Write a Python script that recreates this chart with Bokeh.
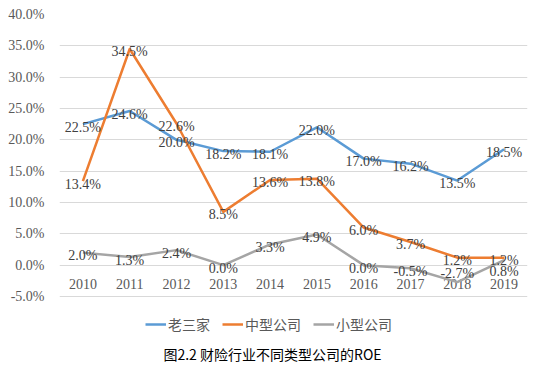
from bokeh.plotting import figure
from bokeh.models import Legend, LegendItem, Label, PrintfTickFormatter, FixedTicker, Range1d, ColumnDataSource
from bokeh.core.properties import value
from bokeh.embed import file_html
from bokeh.resources import INLINE

years = ["2010", "2011", "2012", "2013", "2014", "2015", "2016", "2017", "2018", "2019"]
big3 = [22.5, 24.6, 20.0, 18.2, 18.1, 22.0, 17.0, 16.2, 13.5, 18.5]
mid = [13.4, 34.5, 22.6, 8.5, 13.6, 13.8, 6.0, 3.7, 1.2, 1.2]
small = [2.0, 1.3, 2.4, 0.0, 3.3, 4.9, 0.0, -0.5, -2.7, 0.8]
y_ticks = [-5, 0, 5, 10, 15, 20, 25, 30, 35, 40]
names = ["老三家", "中型公司", "小型公司"]
colors = ["#5B9BD5", "#ED7D31", "#A5A5A5"]
caption = "图2.2 财险行业不同类型公司的ROE"

serif = "Liberation Serif"
cjk = "Noto Sans CJK SC"

p = figure(width=537, height=371, x_range=years, y_range=Range1d(-16.97, 40),
           output_backend="svg", toolbar_location=None,
           min_border_left=59, min_border_right=10, min_border_top=14, min_border_bottom=0)
p.outline_line_color = None

p.yaxis.ticker = FixedTicker(ticks=y_ticks)
p.yaxis.formatter = PrintfTickFormatter(format="%.1f%%")
p.yaxis.axis_line_color = None
p.yaxis.major_tick_line_color = None
p.yaxis.minor_tick_line_color = None
p.yaxis.major_label_text_font = serif
p.yaxis.major_label_text_font_size = "14px"
p.yaxis.major_label_text_color = "#595959"
p.yaxis.major_label_standoff = 9

p.xaxis.visible = False
p.xgrid.grid_line_color = None
p.ygrid.grid_line_color = "#D9D9D9"

p.text(years, [0] * len(years), text=years, text_align="center", text_baseline="middle",
       y_offset=19, text_font=value(serif), text_font_size="14px", text_color="#595959")

items = []
for name, vals, c in zip(names, [big3, mid, small], colors):
    src = ColumnDataSource(dict(x=years, y=vals))
    r = p.line("x", "y", source=src, line_color=c, line_width=2.5, line_join="round")
    items.append(LegendItem(label=name, renderers=[r]))

# label nudges (pixels) where the original moved labels apart
nudge = {(2, "2018"): -9, (2, "2019"): 11}
for si, vals in enumerate([big3, mid, small]):
    labels = ["%.1f%%" % v for v in vals]
    offs = [nudge.get((si, yr), 3) for yr in years]
    src = ColumnDataSource(dict(x=years, y=vals, t=labels, o=offs))
    p.text("x", "y", text="t", y_offset="o", source=src, text_align="center", text_baseline="middle",
           text_font=value(serif), text_font_size="14px", text_color="#404040")

legend = Legend(items=items, orientation="horizontal", location=(86, 37),
                label_text_font=cjk, label_text_font_size="14px", label_text_color="#595959",
                glyph_width=21, spacing=12, border_line_color=None, background_fill_alpha=0,
                padding=2, margin=0, label_standoff=2)
p.add_layout(legend)

p.add_layout(Label(x=213, y=18, x_units="screen", y_units="screen", text=caption,
                   text_align="center", text_baseline="middle", text_font=cjk,
                   text_font_size="14px", text_color="#000000"))

open("out.html", "w").write(file_html(p, INLINE))
